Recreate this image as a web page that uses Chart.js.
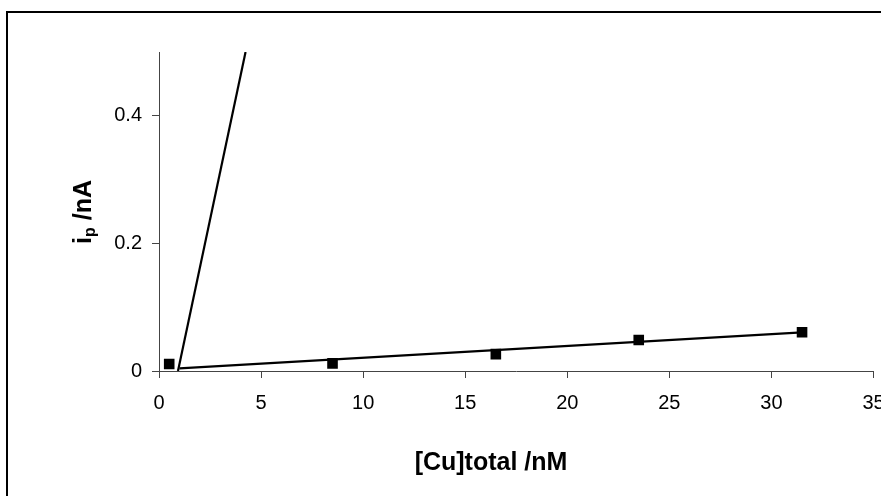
<!DOCTYPE html>
<html>
<head>
<meta charset="utf-8">
<script src="https://cdn.jsdelivr.net/npm/chart.js@4"></script>
<style>
  html, body { margin: 0; padding: 0; background: #fff; }
  #wrap { width: 881px; height: 496px; }
</style>
</head>
<body>
<div id="wrap"><canvas id="chart" width="881" height="496"></canvas></div>
<script>
// measured points: [Cu]total (nM) vs peak current (nA)
const cuTotal = [0.5, 8.5, 16.5, 23.5, 31.5];
const peakCurrent = [0.011, 0.012, 0.0265, 0.0487, 0.0607];

// the two fitted lines (end points)
const steepFitX = [0.93, 4.24];
const steepFitY = [0, 0.5];
const shallowFitX = [1.0, 31.5];
const shallowFitY = [0.004, 0.0605];

// tick labels
const xTicks = [0, 5, 10, 15, 20, 25, 30, 35];
const yTicks = [0, 0.2, 0.4];

const FONT = '"Liberation Sans", Arial, sans-serif';

const toPoints = (xs, ys) => xs.map((x, i) => ({ x: x, y: ys[i] }));

// frame + axis titles (the y title needs a subscript, so it is drawn by hand)
const decorPlugin = {
  id: 'decor',
  beforeDraw(chart) {
    const ctx = chart.ctx;
    ctx.save();
    ctx.fillStyle = '#fff';
    ctx.fillRect(0, 0, chart.width, chart.height);
    ctx.strokeStyle = '#000';
    ctx.lineWidth = 2;
    ctx.beginPath();
    ctx.moveTo(7, chart.height);
    ctx.lineTo(7, 12);
    ctx.lineTo(chart.width, 12);
    ctx.stroke();
    ctx.restore();
  },
  afterDraw(chart) {
    const ctx = chart.ctx;
    ctx.save();
    ctx.fillStyle = '#000';
    ctx.textBaseline = 'middle';

    // x title
    ctx.font = 'bold 25px ' + FONT;
    ctx.textAlign = 'center';
    ctx.fillText('[Cu]total /nM', 491, 463);

    // y title: i_p /nA
    const big = 'bold 25px ' + FONT;
    const small = 'bold 16px ' + FONT;
    ctx.font = big;
    const wI = ctx.measureText('i').width;
    const wRest = ctx.measureText(' /nA').width;
    ctx.font = small;
    const wP = ctx.measureText('p').width;
    const total = wI + wP + wRest;
    ctx.translate(84, 212);
    ctx.rotate(-Math.PI / 2);
    ctx.textAlign = 'left';
    let x = -total / 2;
    ctx.font = big;
    ctx.fillText('i', x, 0);
    x += wI;
    ctx.font = small;
    ctx.fillText('p', x, 7);
    x += wP;
    ctx.font = big;
    ctx.fillText(' /nA', x, 0);
    ctx.restore();
  }
};

new Chart(document.getElementById('chart'), {
  type: 'scatter',
  plugins: [decorPlugin],
  data: {
    datasets: [
      {
        label: 'data',
        data: toPoints(cuTotal, peakCurrent),
        pointStyle: 'rect',
        pointRadius: 7.5,
        backgroundColor: '#000',
        borderColor: '#000',
        borderWidth: 0,
        showLine: false,
        order: 0
      },
      {
        label: 'fit 1',
        data: toPoints(steepFitX, steepFitY),
        showLine: true,
        borderColor: '#000',
        borderWidth: 2.2,
        pointRadius: 0,
        order: 1
      },
      {
        label: 'fit 2',
        data: toPoints(shallowFitX, shallowFitY),
        showLine: true,
        borderColor: '#000',
        borderWidth: 2.2,
        pointRadius: 0,
        order: 1
      }
    ]
  },
  options: {
    responsive: false,
    animation: false,
    layout: { padding: { top: 52, right: 5, left: 0, bottom: 0 } },
    plugins: {
      legend: { display: false },
      tooltip: { enabled: false }
    },
    scales: {
      x: {
        type: 'linear',
        min: 0,
        max: 35,
        afterFit: (s) => { s.height = 125; s.paddingLeft = 0; s.paddingRight = 0; },
        afterBuildTicks: (s) => { s.ticks = xTicks.map(v => ({ value: v })); },
        grid: { drawOnChartArea: false, tickLength: 7, color: '#444', tickColor: '#444' },
        border: { color: '#444', width: 1 },
        ticks: {
          color: '#000',
          padding: 13,
          maxRotation: 0,
          font: { family: FONT, size: 20 },
          callback: (v) => String(v)
        }
      },
      y: {
        type: 'linear',
        min: 0,
        max: 0.5,
        afterFit: (s) => { s.width = 159; s.paddingTop = 0; s.paddingBottom = 0; },
        afterBuildTicks: (s) => { s.ticks = yTicks.map(v => ({ value: v })); },
        grid: { drawOnChartArea: false, tickLength: 7, color: '#444', tickColor: '#444' },
        border: { color: '#444', width: 1 },
        ticks: {
          color: '#000',
          padding: 10,
          font: { family: FONT, size: 20 },
          callback: (v) => String(v)
        }
      }
    }
  }
});
</script>
</body>
</html>
